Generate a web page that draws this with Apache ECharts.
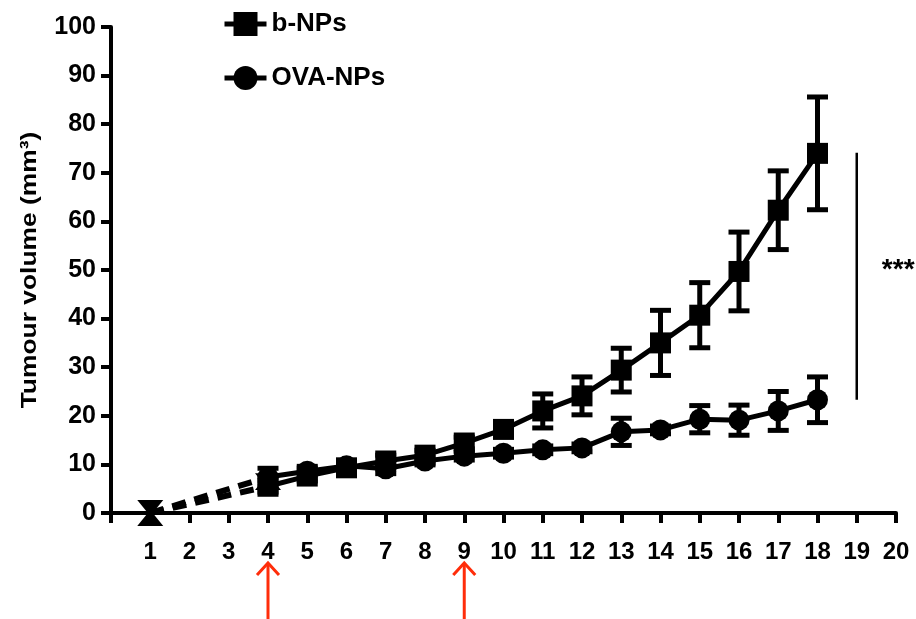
<!DOCTYPE html>
<html>
<head>
<meta charset="utf-8">
<script src="https://cdn.jsdelivr.net/npm/echarts@6/dist/echarts.min.js"></script>
<style>
html,body{margin:0;padding:0;background:#fff;}
#chart{width:916px;height:619px;}
</style>
</head>
<body>
<div id="chart"></div>
<script>
// ---- data ----
const days = [4, 5, 6, 7, 8, 9, 10, 11, 12, 13, 14, 15, 16, 17, 18];
const bNPs = [5.5, 7.6, 9.3, 10.7, 11.9, 14.4, 17.2, 21.0, 24.1, 29.4, 35.0, 40.7, 49.7, 62.3, 74.0];
const bErr = [1.2, 1.0, 1.0, 1.2, 1.0, 1.2, 1.0, 3.5, 3.9, 4.5, 6.7, 6.7, 8.1, 8.1, 11.6];
const ovaNPs = [7.4, 8.6, 9.7, 9.1, 10.7, 11.7, 12.3, 13.0, 13.4, 16.7, 17.1, 19.3, 19.1, 21.0, 23.3];
const ovaErr = [1.8, 1.0, 0.8, 1.0, 0.8, 0.8, 0.8, 0.8, 0.8, 2.8, 0.8, 2.8, 3.1, 4.0, 4.7];
const startDay = 1, startValue = 0;
const xTicks = [1,2,3,4,5,6,7,8,9,10,11,12,13,14,15,16,17,18,19,20];
const yTicks = [0,10,20,30,40,50,60,70,80,90,100];
const arrowDays = [4, 9];
const sigX = 19, sigRange = [74.1, 23.3], sigLabel = '***';
const sigLabelPos = [19.64, 50.0];
const seriesNames = ['b-NPs', 'OVA-NPs'];
const yTitle = 'Tumour volume (mm³)';

const FONT = 'Arial, "Liberation Sans", Helvetica, sans-serif';
const chart = echarts.init(document.getElementById('chart'), null, {renderer: 'canvas'});

function pairs(xs, ys) { return xs.map((x, i) => [x, ys[i]]); }
function errData(xs, ys, es) { return xs.map((x, i) => [x, ys[i] - es[i], ys[i] + es[i]]); }

function renderErr(params, api) {
  const x = api.value(0);
  const lo = api.coord([x, api.value(1)]);
  const hi = api.coord([x, api.value(2)]);
  const hw = 10.5;
  const st = {stroke: '#000', lineWidth: 5, fill: 'none'};
  return {
    type: 'group',
    children: [
      {type: 'line', shape: {x1: lo[0], y1: lo[1], x2: hi[0], y2: hi[1]}, style: st},
      {type: 'line', shape: {x1: hi[0] - hw, y1: hi[1], x2: hi[0] + hw, y2: hi[1]}, style: st},
      {type: 'line', shape: {x1: lo[0] - hw, y1: lo[1], x2: lo[0] + hw, y2: lo[1]}, style: st}
    ]
  };
}

const option = {
  animation: false,
  backgroundColor: '#fff',
  grid: {left: 111, right: 20, top: 27, bottom: 106, containLabel: false},
  legend: {
    data: seriesNames,
    orient: 'vertical',
    left: 217, top: 6,
    itemWidth: 42, itemHeight: 30, itemGap: 28,
    lineStyle: {width: 5},
    textStyle: {fontSize: 26, fontWeight: 'bold', color: '#000', fontFamily: FONT, padding: [4, 0, 0, 0]}
  },
  xAxis: {
    type: 'value', min: 0, max: 20, interval: 1,
    axisLine: {lineStyle: {color: '#000', width: 4}},
    axisTick: {show: true, length: 10, lineStyle: {color: '#000', width: 4}},
    splitLine: {show: false},
    axisLabel: {
      margin: 27, fontSize: 24, fontWeight: 'bold', color: '#000', fontFamily: FONT,
      formatter: v => (xTicks.indexOf(v) >= 0 ? String(v) : '')
    }
  },
  yAxis: {
    type: 'value', min: 0, max: 100, interval: 10,
    axisLine: {lineStyle: {color: '#000', width: 4}},
    axisTick: {show: true, length: 10, lineStyle: {color: '#000', width: 4}},
    splitLine: {show: false},
    axisLabel: {
      margin: 15, fontSize: 25, fontWeight: 'bold', color: '#000', fontFamily: FONT,
      formatter: v => (yTicks.indexOf(v) >= 0 ? String(v) : '')
    }
  },
  series: [
    {
      name: 'b-NPs-dash', type: 'line',
      data: [[startDay, startValue], [days[0], bNPs[0]]],
      lineStyle: {color: '#000', width: 6, type: [14, 9]},
      symbol: 'triangle', symbolSize: [26, 16], symbolRotate: 180, symbolOffset: [0, -5],
      itemStyle: {color: '#000'},
      z: 3
    },
    {
      name: 'OVA-NPs-dash', type: 'line',
      data: [[startDay, startValue], [days[0], ovaNPs[0]]],
      lineStyle: {color: '#000', width: 6, type: [14, 9]},
      symbol: 'triangle', symbolSize: [26, 16], symbolOffset: [0, 5],
      itemStyle: {color: '#000'},
      z: 3
    },
    {
      name: 'b-NPs', type: 'line',
      data: pairs(days, bNPs),
      symbol: 'rect', symbolSize: 21,
      lineStyle: {color: '#000', width: 5},
      itemStyle: {color: '#000'},
      z: 4
    },
    {
      name: 'OVA-NPs', type: 'line',
      data: pairs(days, ovaNPs),
      symbol: 'circle', symbolSize: 21,
      lineStyle: {color: '#000', width: 5},
      itemStyle: {color: '#000'},
      z: 4
    },
    {
      name: 'b-err', type: 'custom', renderItem: renderErr,
      data: errData(days, bNPs, bErr), encode: {x: 0, y: [1, 2]}, z: 5
    },
    {
      name: 'ova-err', type: 'custom', renderItem: renderErr,
      data: errData(days, ovaNPs, ovaErr), encode: {x: 0, y: [1, 2]}, z: 5
    },
    {
      name: 'sig', type: 'line',
      data: [[sigX, sigRange[0]], [sigX, sigRange[1]]],
      symbol: 'none',
      lineStyle: {color: '#000', width: 2.5},
      z: 2
    }
  ]
};
chart.setOption(option);

// annotations positioned through the chart's own scales
const graphics = [];
const titleCenter = chart.convertToPixel({yAxisIndex: 0}, 50);
graphics.push({
  type: 'text', x: 30, y: titleCenter, rotation: Math.PI / 2, scaleX: 1.2,
  style: {text: yTitle, fontSize: 22, fontWeight: 'bold', fill: '#000', fontFamily: FONT,
          align: 'center', verticalAlign: 'middle'}
});
const axisY = chart.convertToPixel({yAxisIndex: 0}, 0);
arrowDays.forEach(d => {
  const x = chart.convertToPixel({xAxisIndex: 0}, d);
  const tip = axisY + 50;
  graphics.push({
    type: 'group',
    children: [
      {type: 'line', shape: {x1: x, y1: tip, x2: x, y2: 619}, style: {stroke: '#ff2d0a', lineWidth: 3}},
      {type: 'polyline', shape: {points: [[x - 11, tip + 12], [x, tip], [x + 11, tip + 12]]},
       style: {stroke: '#ff2d0a', lineWidth: 3, fill: 'none'}}
    ]
  });
});
const sp = chart.convertToPixel({gridIndex: 0}, sigLabelPos);
graphics.push({
  type: 'text', x: sp[0], y: sp[1],
  style: {text: sigLabel, fontSize: 28, fontWeight: 'bold', fill: '#000', fontFamily: FONT,
          align: 'left', verticalAlign: 'middle'}
});
chart.setOption({graphic: graphics});
</script>
</body>
</html>
